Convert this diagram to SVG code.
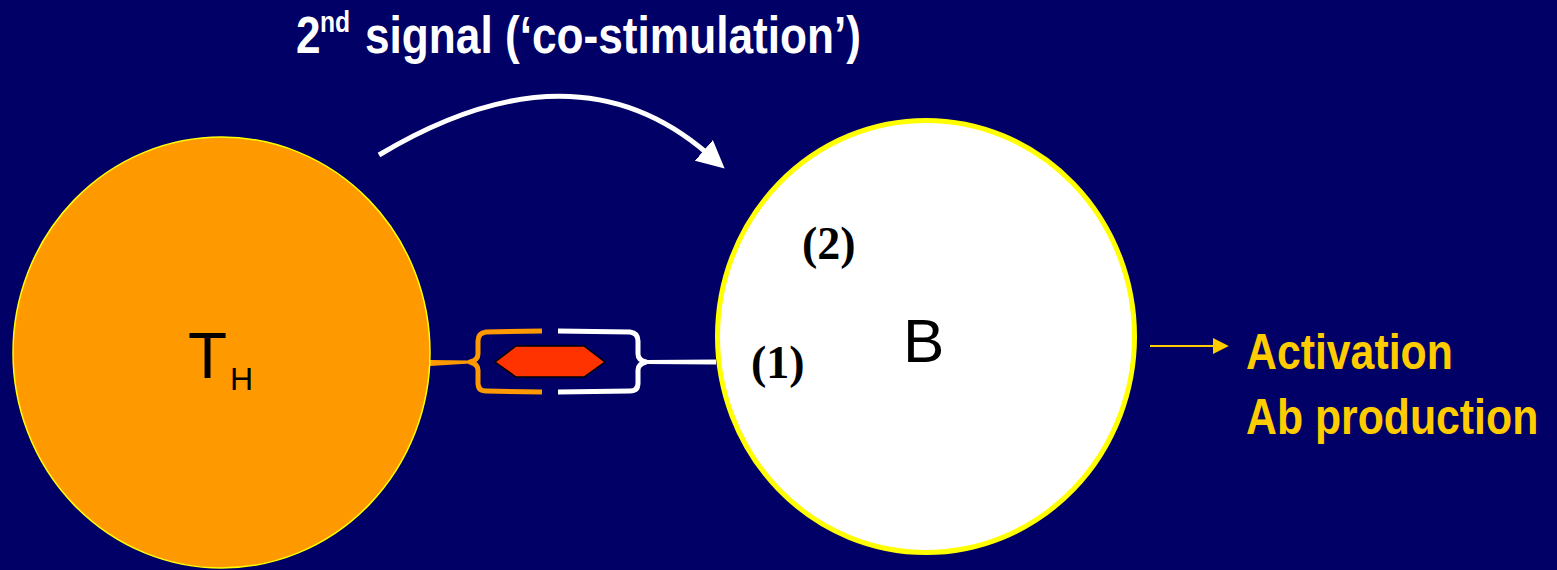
<svg xmlns="http://www.w3.org/2000/svg" width="1557" height="570" viewBox="0 0 1557 570">
<style>
.title{font-family:"Liberation Sans",Arial,sans-serif;font-weight:bold;fill:#FFFFFF}
.lbl{font-family:"Liberation Sans",Arial,sans-serif;fill:#000000}
.num{font-family:"Liberation Serif","Times New Roman",serif;font-weight:bold;fill:#000000;font-size:46px}
.out{font-family:"Liberation Sans",Arial,sans-serif;font-weight:bold;fill:#FFCC00;font-size:50px}
.brace{fill:none;stroke-width:5;stroke-linecap:butt;stroke-linejoin:round}
</style>
<defs>
<marker id="whiteHead" viewBox="0 0 10 10" refX="2" refY="5" markerWidth="5.5" markerHeight="5.5" markerUnits="strokeWidth" orient="auto">
<path d="M0,0 L10,5 L0,10 Z" fill="#FFFFFF"/>
</marker>
<marker id="yellowHead" viewBox="0 0 10 10" refX="2" refY="5" markerWidth="8" markerHeight="8" markerUnits="strokeWidth" orient="auto">
<path d="M0,0 L10,5 L0,10 Z" fill="#FFCC00"/>
</marker>
</defs>
<rect x="0" y="0" width="1557" height="570" fill="#000066"/>

<g id="title">
<text class="title" transform="translate(296,53) scale(0.85,1)" x="0" y="0" font-size="52">2</text>
<text class="title" transform="translate(320,32) scale(0.85,1)" x="0" y="0" font-size="29">nd</text>
<text class="title" transform="translate(365,53) scale(0.85,1)" x="0" y="0" font-size="52">signal (‘co-stimulation’)</text>
</g>

<g id="connectors">
<path d="M379,155 Q574,38 708,154" fill="none" stroke="#FFFFFF" stroke-width="5" marker-end="url(#whiteHead)"/>
<path class="brace" stroke="#FF9900" d="M542,331 L486,332 Q478,333 478,341 L478,354 Q478,360 470,362 Q478,364 478,370 L478,383 Q478,391 486,391 L542,392"/>
<path d="M430,360 L470,360.5 L470,363.5 L430,366 Z" fill="#FF9900"/>
<path class="brace" stroke="#FFFFFF" d="M558,331 L630,332 Q638,333 638,341 L638,354 Q638,360 646,362 Q638,364 638,370 L638,383 Q638,391 630,391 L558,392"/>
<path d="M646,360 L716,359.5 L716,364.5 L646,364 Z" fill="#FFFFFF"/>
<line x1="1150" y1="346" x2="1216" y2="346" stroke="#FFCC00" stroke-width="2" marker-end="url(#yellowHead)"/>
</g>

<g id="node-th">
<ellipse cx="221.5" cy="352.5" rx="208.5" ry="215.5" fill="#FF9900" stroke="#FFFF00" stroke-width="1.5"/>
<text class="lbl" x="188" y="378" font-size="64">T</text>
<text class="lbl" x="230" y="390" font-size="32">H</text>
</g>

<g id="node-complex">
<polygon points="495,362 516,346 584,346 605,362 584,377 516,377" fill="#FF3300" stroke="#000000" stroke-width="1.5"/>
</g>

<g id="node-b">
<ellipse cx="926" cy="336.5" rx="208.5" ry="216" fill="#FFFFFF" stroke="#FFFF00" stroke-width="5"/>
<text class="lbl" x="903" y="362" font-size="62">B</text>
<text class="num" x="802" y="259">(2)</text>
<text class="num" x="751" y="378">(1)</text>
</g>

<g id="node-output">
<text class="out" transform="translate(1246,369) scale(0.856,1)" x="0" y="0">Activation</text>
<text class="out" transform="translate(1246,434) scale(0.856,1)" x="0" y="0">Ab production</text>
</g>
</svg>
